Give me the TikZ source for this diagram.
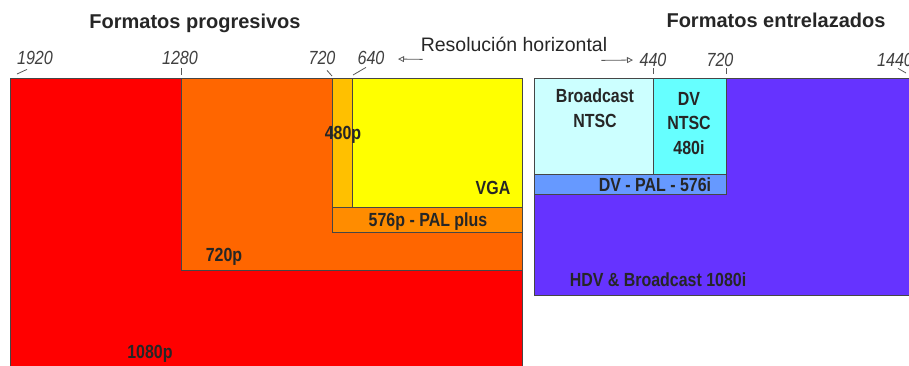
\documentclass[tikz,border=0pt]{standalone}
\usepackage{fontspec}
\setmainfont{Liberation Sans}
\newfontfamily\narrowsans[FakeStretch=0.84]{Liberation Sans}
\newfontfamily\ticksans[FakeStretch=0.85]{Liberation Sans}
\usepackage{tikz}
\usetikzlibrary{positioning, arrows.meta}
\definecolor{cRed}{RGB}{255,0,0}
\definecolor{cOrange}{RGB}{255,102,0}
\definecolor{cPal}{RGB}{255,140,0}
\definecolor{cGold}{RGB}{255,192,0}
\definecolor{cYellow}{RGB}{255,255,0}
\definecolor{cIce}{RGB}{204,255,255}
\definecolor{cCyan}{RGB}{102,255,255}
\definecolor{cSky}{RGB}{102,153,255}
\definecolor{cViolet}{RGB}{102,51,255}
\definecolor{cEdge}{RGB}{70,70,70}

\begin{document}
\begin{tikzpicture}[x=1pt, y=-1pt,
                    fmtbox/.style={draw=cEdge, line width=0.8pt},
                    fmtlabel/.style={inner sep=0pt, anchor=base, text=black!85,
                                     font=\narrowsans\bfseries\fontsize{19}{24.5}\selectfont},
                    title/.style={inner sep=0pt, anchor=base, text=black!85,
                                  font=\bfseries\fontsize{20}{24}\selectfont},
                    ticklabel/.style={inner sep=0pt, anchor=base, text=black!75,
                                      font=\ticksans\itshape\fontsize{19}{22}\selectfont},
                    tick/.style={draw=black!65, line width=0.8pt},
                    resarrow/.style={draw=black!65, line width=0.8pt, -{Triangle[open, length=6pt, width=6pt]}}]

    \clip (0,0) rectangle (909,365);

    % Progressive formats
    \path[fmtbox, fill=cRed]    (10,78)  rectangle (522,372);
    \path[fmtbox, fill=cOrange] (181,78) rectangle (522,270);
    \path[fmtbox, fill=cPal]    (332,78) rectangle (522,232);
    \path[fmtbox, fill=cGold]   (332,78) rectangle (352,207);
    \path[fmtbox, fill=cYellow] (352,78) rectangle (522,207);

    % Interlaced formats
    \path[fmtbox, fill=cViolet] (534,78)  rectangle (915,295);
    \path[fmtbox, fill=cSky]    (534,78)  rectangle (726,194);
    \path[fmtbox, fill=cIce]    (534,78)  rectangle (653,174);
    \path[fmtbox, fill=cCyan]   (653,78)  rectangle (726,174);

    % Box labels
    \node[fmtlabel] (L480p)  at (343,139) {480p};
    \node[fmtlabel] (Lvga)   at (493,194) {VGA};
    \node[fmtlabel] (L576p)  at (428,226) {576p - PAL plus};
    \node[fmtlabel] (L720p)  at (224,261) {720p};
    \node[fmtlabel] (L1080p) at (150,358) {1080p};
    \node[fmtlabel, align=center] (Lbcast) at (595,127) {Broadcast\\NTSC};
    \node[fmtlabel, align=center] (Ldv)    at (689,154) {DV\\NTSC\\480i};
    \node[fmtlabel] (Ldvpal) at (655,191) {DV - PAL - 576i};
    \node[fmtlabel] (Lhdv)   at (658,286) {HDV \& Broadcast 1080i};

    % Titles
    \node[title] (Tprog) at (195,28) {Formatos progresivos};
    \node[title] (Tint)  at (776,27) {Formatos entrelazados};
    \node[inner sep=0pt, anchor=base, text=black!85, font=\fontsize{19.5}{22}\selectfont]
        (res) at (514,51) {Resolución horizontal};

    % Tick labels
    \node[ticklabel] (t1920)  at (35,64)  {1920};
    \node[ticklabel] (t1280)  at (180,64) {1280};
    \node[ticklabel] (t720p)  at (322,64) {720};
    \node[ticklabel] (t640)   at (371,64) {640};
    \node[ticklabel] (t440)   at (653,66) {440};
    \node[ticklabel] (t720i)  at (720,66) {720};
    \node[ticklabel] (t1440)  at (895,66) {1440};

    \coordinate (k1920) at (17,74);
    \coordinate (k1280) at (181,75);
    \coordinate (k720p) at (332,76);
    \coordinate (k640)  at (353,75);
    \coordinate (k440)  at (653,74);
    \coordinate (k720i) at (726,74);
    \coordinate (k1440) at (906,73);
    \coordinate (aL) at (398,59);
    \coordinate (aR) at (633,60);

    % Tick marks and arrows
    \draw[tick] ([shift={(-8,5)}]t1920.south) -- (k1920);
    \draw[tick] ([shift={(1,4)}]t1280.south) -- (k1280);
    \draw[tick] ([shift={(5,6)}]t720p.south) -- (k720p);
    \draw[tick] ([shift={(-5,3)}]t640.south) -- (k640);
    \draw[tick] ([shift={(0,2)}]t440.south) -- (k440);
    \draw[tick] ([shift={(6,2)}]t720i.south) -- (k720i);
    \draw[tick] ([shift={(3,2)}]t1440.south) -- (k1440);
    \draw[resarrow] ([shift={(2,8)}]res.south west) -- (aL);
    \draw[resarrow] ([shift={(-6,9)}]res.south east) -- (aR);
\end{tikzpicture}
\end{document}
